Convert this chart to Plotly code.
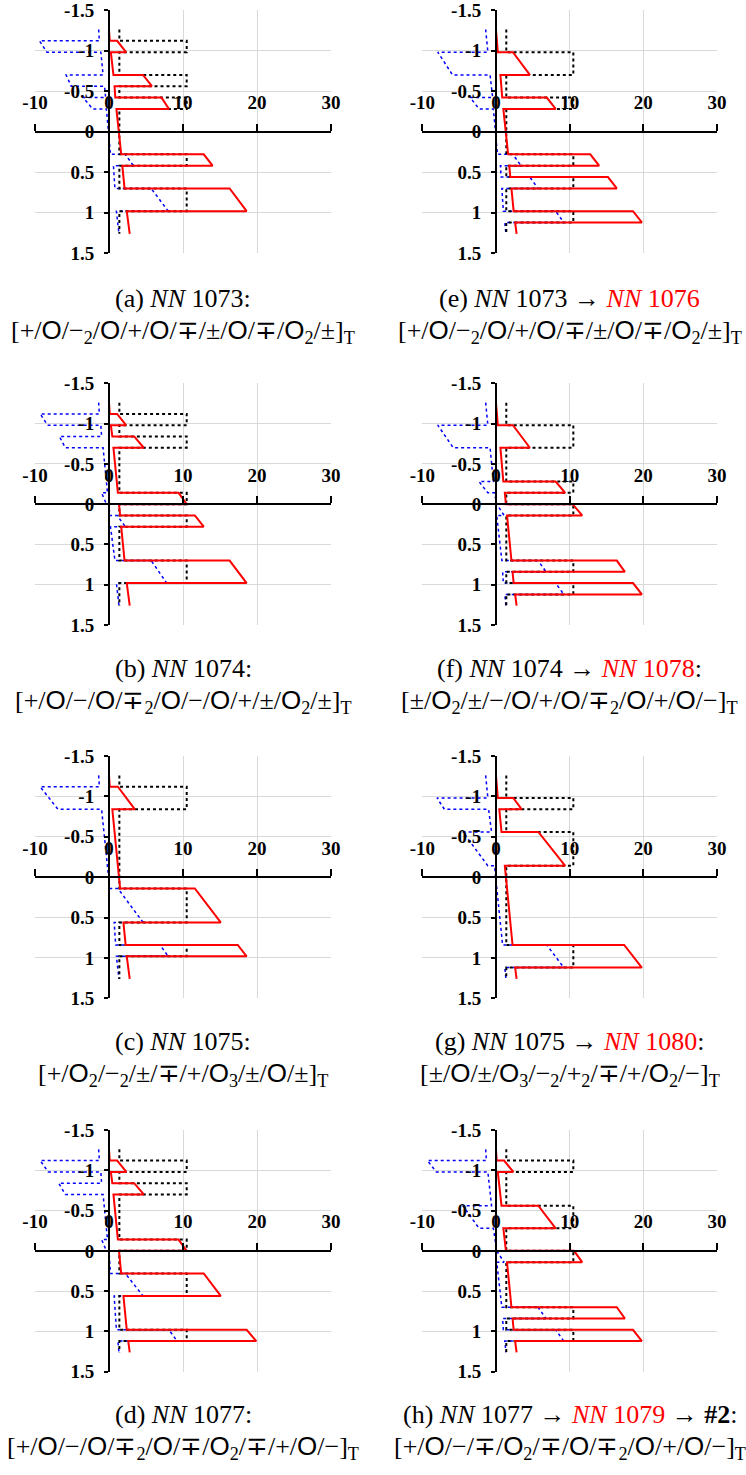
import plotly.graph_objects as go

# ---------------- data ----------------
# ply-interface positions through the thickness (18 plies)
Z_BOUNDS = [-1.26, -1.12, -0.98, -0.84, -0.70, -0.56, -0.42, -0.28, -0.14, 0.0,
            0.14, 0.28, 0.42, 0.56, 0.70, 0.84, 0.98, 1.12, 1.26]
# red (solid) and blue (dotted) values at interfaces outside the loaded plies
RED_BASE = [0.0, 0.1, 0.25, 0.45, 0.6, 0.75, 0.85, 1.0, 1.2, 1.35,
            1.5, 1.65, 1.8, 1.95, 2.1, 2.25, 2.4, 2.6, 2.8]
BLUE_BASE = [-1.4, -1.3, -1.1, -1.0, -0.8, -0.6, -0.45, -0.35, -0.2, 0.0,
             0.1, 0.2, 0.6, 0.7, 0.8, 0.9, 1.0, 1.2, 1.35]
# black dotted step levels (outside / inside the loaded plies)
BLACK_LEVELS = [1.4, 10.5]

# loaded ply groups: (first interface index, last interface index)
BLOCKS_A = [(1, 2), (4, 5), (6, 7), (11, 12), (14, 16)]
RED_A = [(1.1, 2.3), (4.6, 5.8), (7.1, 8.1), (12.8, 14.0), (16.3, 18.6)]
BLUE_A = [(-9.4, -8.4), (-5.8, -5.1), (-3.5, -2.2), (2.2, 3.3), (5.7, 8.0)]

BLOCKS_B = [(1, 2), (3, 4), (8, 9), (10, 11), (14, 16)]
RED_B = [(1.1, 2.3), (3.4, 4.7), (9.4, 10.5), (11.6, 12.8), (16.3, 18.6)]
BLUE_B = [(-9.3, -8.3), (-6.7, -5.9), (-1.0, -0.35), (1.1, 2.2), (5.7, 7.8)]

BLOCKS_C = [(1, 3), (10, 13), (15, 16)]
RED_C = [(1.2, 3.5), (11.6, 15.1), (17.4, 18.6)]
BLUE_C = [(-9.3, -6.9), (1.2, 4.6), (6.9, 8.0)]

BLOCKS_D = [(1, 2), (3, 4), (8, 9), (11, 13), (16, 17)]
RED_D = [(1.1, 2.35), (3.4, 4.7), (9.4, 10.5), (12.8, 15.1), (18.6, 19.9)]
BLUE_D = [(-9.3, -8.2), (-6.8, -5.9), (-1.0, -0.35), (2.2, 4.6), (8.1, 9.2)]

BLOCKS_E = [(2, 4), (6, 7), (11, 12), (13, 14), (16, 17)]
RED_E = [(2.3, 4.6), (6.9, 8.1), (12.8, 14.0), (15.2, 16.4), (18.6, 19.8)]
BLUE_E = [(-7.9, -5.9), (-3.5, -2.3), (2.3, 3.4), (4.6, 5.7), (8.1, 9.2)]

BLOCKS_F = [(2, 4), (7, 8), (9, 10), (14, 15), (16, 17)]
RED_F = [(2.3, 4.6), (8.1, 9.4), (10.4, 11.7), (16.4, 17.5), (18.6, 19.8)]
BLUE_F = [(-7.9, -5.8), (-2.3, -1.1), (0.1, 1.1), (5.7, 6.8), (8.1, 9.2)]

BLOCKS_G = [(2, 3), (5, 8), (15, 17)]
RED_G = [(2.35, 3.5), (5.75, 9.4), (17.4, 19.8)]
BLUE_G = [(-8.0, -7.0), (-4.5, -1.1), (6.9, 9.2)]

BLOCKS_H = [(1, 2), (5, 7), (9, 10), (14, 15), (16, 17)]
RED_H = [(1.1, 2.35), (5.75, 8.1), (10.6, 11.7), (16.4, 17.5), (18.6, 19.8)]
BLUE_H = [(-9.3, -8.1), (-4.5, -2.3), (0.1, 1.1), (5.7, 6.8), (8.1, 9.2)]

X_TICKS = [-10, 0, 10, 20, 30]
X_TICK_TEXT = ["-10", "0", "10", "20", "30"]
Y_TICKS = [-1.5, -1.0, -0.5, 0.0, 0.5, 1.0, 1.5]
Y_TICK_TEXT = ["-1.5", "-1", "-0.5", "0", "0.5", "1", "1.5"]

C = "<span style='font-family:Liberation Sans'>O</span>"
CAPTIONS = [
    ("(a) <i>NN</i> 1073:",
     f"[+/{C}/−<sub>2</sub>/{C}/+/{C}/∓/±/{C}/∓/{C}<sub>2</sub>/±]<sub>T</sub>"),
    ("(b) <i>NN</i> 1074:",
     f"[+/{C}/−/{C}/∓<sub>2</sub>/{C}/−/{C}/+/±/{C}<sub>2</sub>/±]<sub>T</sub>"),
    ("(c) <i>NN</i> 1075:",
     f"[+/{C}<sub>2</sub>/−<sub>2</sub>/±/∓/+/{C}<sub>3</sub>/±/{C}/±]<sub>T</sub>"),
    ("(d) <i>NN</i> 1077:",
     f"[+/{C}/−/{C}/∓<sub>2</sub>/{C}/∓/{C}<sub>2</sub>/∓/+/{C}/−]<sub>T</sub>"),
    ("(e) <i>NN</i> 1073 → <span style='color:#ff0000'><i>NN</i> 1076</span>",
     f"[+/{C}/−<sub>2</sub>/{C}/+/{C}/∓/±/{C}/∓/{C}<sub>2</sub>/±]<sub>T</sub>"),
    ("(f) <i>NN</i> 1074 → <span style='color:#ff0000'><i>NN</i> 1078</span>:",
     f"[±/{C}<sub>2</sub>/±/−/{C}/+/{C}/∓<sub>2</sub>/{C}/+/{C}/−]<sub>T</sub>"),
    ("(g) <i>NN</i> 1075 → <span style='color:#ff0000'><i>NN</i> 1080</span>:",
     f"[±/{C}/±/{C}<sub>3</sub>/−<sub>2</sub>/+<sub>2</sub>/∓/+/{C}<sub>2</sub>/−]<sub>T</sub>"),
    ("(h) <i>NN</i> 1077 → <span style='color:#ff0000'><i>NN</i> 1079</span> → <b>#2</b>:",
     f"[+/{C}/−/∓/{C}<sub>2</sub>/∓/{C}/∓<sub>2</sub>/{C}/+/{C}/−]<sub>T</sub>"),
]

PANELS = [
    (BLOCKS_A, RED_A, BLUE_A), (BLOCKS_B, RED_B, BLUE_B),
    (BLOCKS_C, RED_C, BLUE_C), (BLOCKS_D, RED_D, BLUE_D),
    (BLOCKS_E, RED_E, BLUE_E), (BLOCKS_F, RED_F, BLUE_F),
    (BLOCKS_G, RED_G, BLUE_G), (BLOCKS_H, RED_H, BLUE_H),
]

# ---------------- helpers ----------------
def profile(base, blocks, peaks):
    xs, zs = [base[0]], [Z_BOUNDS[0]]
    for (k0, k1), (p0, p1) in zip(blocks, peaks):
        xs += [base[k0], p0, p1, base[k1]]
        zs += [Z_BOUNDS[k0], Z_BOUNDS[k0], Z_BOUNDS[k1], Z_BOUNDS[k1]]
    xs.append(base[-1]); zs.append(Z_BOUNDS[-1])
    return xs, zs


def step(blocks):
    lo, hi = BLACK_LEVELS
    xs, zs = [lo], [Z_BOUNDS[0]]
    for k0, k1 in blocks:
        xs += [lo, hi, hi, lo]
        zs += [Z_BOUNDS[k0], Z_BOUNDS[k0], Z_BOUNDS[k1], Z_BOUNDS[k1]]
    xs.append(lo); zs.append(Z_BOUNDS[-1])
    return xs, zs

# ---------------- layout geometry (page pixels) ----------------
W, H = 746, 1475
COLS = [(35, 331), (422.3, 717)]
ROWS = [(10, 253.3), (383.3, 625), (756, 998.3), (1130, 1371.7)]
CAP1 = [298, 668, 1041, 1414]
CAP2 = [331, 701, 1074, 1447]


def fx(p):
    return p / W


def fy(p):
    return 1 - p / H


fig = go.Figure()
layout = dict(width=W, height=H, margin=dict(l=0, r=0, t=0, b=0, autoexpand=False),
              paper_bgcolor="white", plot_bgcolor="white", showlegend=False)
annotations = []
tickfont = dict(family="Liberation Serif", size=19, color="black", weight="bold")

for i, (blocks, red, blue) in enumerate(PANELS):
    col, row = divmod(i, 4)
    x0p, x1p = COLS[col]
    y0p, y1p = ROWS[row]
    xd = [fx(x0p), fx(x1p)]
    yd = [fy(y1p), fy(y0p)]
    n = "" if i == 0 else str(i + 1)
    xa, ya = "x" + n, "y" + n

    bx, bz = profile(BLUE_BASE, blocks, blue)
    kx, kz = step(blocks)
    rx, rz = profile(RED_BASE, blocks, red)
    fig.add_trace(go.Scatter(x=bx, y=bz, mode="lines", xaxis=xa, yaxis=ya,
                             line=dict(color="#0000ff", width=1.5, dash="dot")))
    fig.add_trace(go.Scatter(x=kx, y=kz, mode="lines", xaxis=xa, yaxis=ya,
                             line=dict(color="black", width=2, dash="dot")))
    fig.add_trace(go.Scatter(x=rx, y=rz, mode="lines", xaxis=xa, yaxis=ya,
                             line=dict(color="#ff0000", width=2)))

    layout["xaxis" + n] = dict(
        domain=xd, range=[-10, 30], anchor="free", position=(yd[0] + yd[1]) / 2,
        side="top", tickvals=X_TICKS, ticktext=X_TICK_TEXT, automargin=False,
        showgrid=True, gridcolor="#d9d9d9", gridwidth=1, zeroline=False,
        showline=True, linecolor="black", linewidth=2,
        ticks="outside", ticklen=7, tickwidth=2, tickcolor="black",
        tickfont=tickfont, ticklabelstandoff=7, ticklabeloverflow="allow",
        fixedrange=True)
    layout["yaxis" + n] = dict(
        domain=yd, range=[1.5, -1.5], anchor="free",
        position=xd[0] + 0.25 * (xd[1] - xd[0]), automargin=False,
        tickvals=Y_TICKS, ticktext=Y_TICK_TEXT,
        showgrid=True, gridcolor="#d9d9d9", gridwidth=1, zeroline=False,
        showline=True, linecolor="black", linewidth=2,
        ticks="outside", ticklen=4, tickwidth=2, tickcolor="black",
        tickfont=tickfont, ticklabelstandoff=6, ticklabeloverflow="allow",
        fixedrange=True)

    cx = fx((x0p + x1p) / 2)
    t1, t2 = CAPTIONS[i]
    for txt, yp in ((t1, CAP1[row]), (t2, CAP2[row])):
        annotations.append(dict(text=txt, x=cx, y=fy(yp), xref="paper",
                                yref="paper", xanchor="center", yanchor="middle",
                                showarrow=False,
                                font=dict(family="Liberation Serif", size=26,
                                          color="black")))

layout["annotations"] = annotations
fig.update_layout(**layout)
# remove the page's default 8px body margin so the figure sits at the window origin
fig.write_html("out.html", config={"displayModeBar": False},
               post_script="document.body.style.margin='0';")
